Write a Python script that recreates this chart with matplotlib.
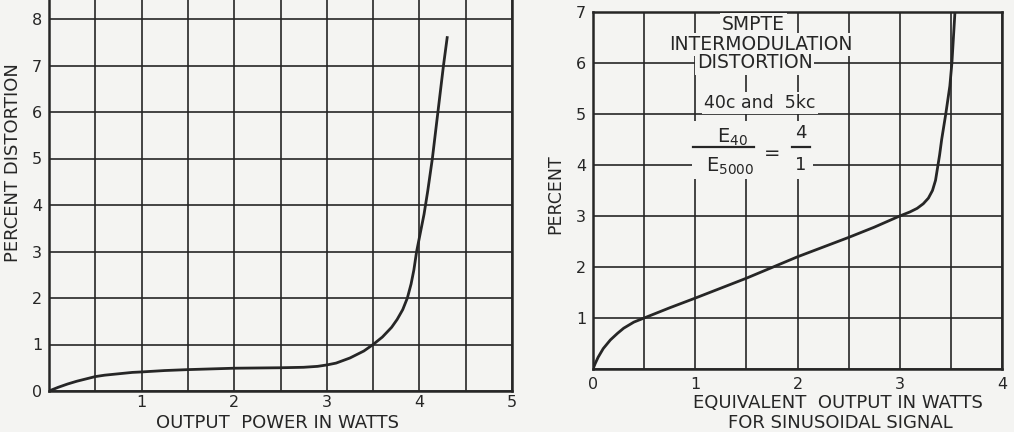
import matplotlib
matplotlib.use('Agg')
import matplotlib.pyplot as plt
from matplotlib.patches import Rectangle

# left chart: percent distortion vs output power
power_w = [0, 0.1, 0.2, 0.3, 0.4, 0.5, 0.6, 0.75, 0.9, 1.0, 1.25, 1.5, 2.0, 2.5, 2.75,
           2.9, 3.0, 3.1, 3.25, 3.4, 3.5, 3.6, 3.7, 3.76, 3.82, 3.87, 3.91, 3.94, 3.97,
           4.01, 4.05, 4.09, 4.14, 4.2, 4.26, 4.3]
distortion = [0, 0.08, 0.15, 0.21, 0.26, 0.31, 0.34, 0.37, 0.4, 0.41, 0.44, 0.46, 0.49, 0.5, 0.51,
              0.53, 0.56, 0.6, 0.71, 0.86, 1.0, 1.16, 1.37, 1.54, 1.75, 2.0, 2.3, 2.6, 3.0,
              3.4, 3.8, 4.3, 5.0, 6.0, 7.0, 7.6]

# right chart: SMPTE intermodulation distortion
equiv_w = [0, 0.02, 0.05, 0.1, 0.17, 0.24, 0.3, 0.4, 0.5, 0.6, 0.75, 1.0, 1.5, 2.0, 2.5,
           2.75, 3.0, 3.1, 3.17, 3.23, 3.28, 3.32, 3.35, 3.37, 3.39, 3.41, 3.45, 3.49, 3.51, 3.54]
im_percent = [0, 0.1, 0.23, 0.4, 0.57, 0.7, 0.8, 0.92, 1.0, 1.08, 1.2, 1.39, 1.78, 2.2, 2.58,
              2.78, 3.0, 3.08, 3.15, 3.24, 3.35, 3.5, 3.7, 3.95, 4.2, 4.5, 5.0, 5.55, 6.0, 7.0]

left_xticks = [1, 2, 3, 4, 5]
left_yticks = [0, 1, 2, 3, 4, 5, 6, 7, 8]
right_xticks = [0, 1, 2, 3, 4]
right_yticks = [1, 2, 3, 4, 5, 6, 7]

ink = '#262626'
paper = '#f4f4f2'

plt.rcParams['font.family'] = ['DejaVu Sans']
plt.rcParams['mathtext.default'] = 'regular'

fig = plt.figure(figsize=(10.14, 4.32), dpi=100, facecolor=paper)


def style(ax, xmax, ymax, xticks, yticks, xpad, ypad):
    ax.set_facecolor(paper)
    ax.set_xlim(0, xmax)
    ax.set_ylim(0, ymax)
    ax.set_xticks(xticks)
    ax.set_yticks(yticks)
    ax.set_xticks([i * 0.5 for i in range(int(xmax * 2) + 1)], minor=True)
    ax.set_yticks(range(int(ymax) + 1), minor=True)
    ax.grid(which='both', color=ink, linewidth=1.2)
    ax.tick_params(which='both', length=0, colors=ink, labelsize=11.5)
    ax.tick_params(axis='x', pad=xpad)
    ax.tick_params(axis='y', pad=ypad)
    for s in ax.spines.values():
        s.set_color(ink)
        s.set_linewidth(1.8)


# ---- left panel ----
ax1 = fig.add_axes([49 / 1014, 41 / 432, 463 / 1014, 8.5 * 46.5 / 432])
style(ax1, 5, 8.5, left_xticks, left_yticks, 3, 5)
ax1.plot(power_w, distortion, color=ink, linewidth=2.0, zorder=3)
fig.text(277 / 1014, 1 - 423 / 432, 'OUTPUT  POWER IN WATTS', ha='center', va='center',
         fontsize=13, color=ink)
fig.text(13 / 1014, 1 - 163 / 432, 'PERCENT DISTORTION', ha='center', va='center',
         rotation=90, fontsize=13, color=ink)

# ---- right panel ----
ax2 = fig.add_axes([593 / 1014, 63 / 432, 409 / 1014, 357 / 432])
style(ax2, 4, 7, right_xticks, right_yticks, 6, 5)
ax2.plot(equiv_w, im_percent, color=ink, linewidth=2.0, zorder=3)
fig.text(555 / 1014, 1 - 194 / 432, 'PERCENT', ha='center', va='center',
         rotation=90, fontsize=12.5, color=ink)
fig.text(838 / 1014, 1 - 403 / 432, 'EQUIVALENT  OUTPUT IN WATTS', ha='center', va='center',
         fontsize=13, color=ink)
fig.text(840 / 1014, 1 - 423 / 432, 'FOR SINUSOIDAL SIGNAL', ha='center', va='center',
         fontsize=13, color=ink)

box = dict(facecolor=paper, edgecolor='none', pad=1.5)
ax2.text(1.57, 6.75, 'SMPTE', ha='center', va='center', fontsize=13.5, color=ink, bbox=box, zorder=4)
ax2.text(1.64, 6.36, 'INTERMODULATION', ha='center', va='center', fontsize=13.5, color=ink, bbox=box, zorder=4)
ax2.text(1.58, 6.0, 'DISTORTION', ha='center', va='center', fontsize=13.5, color=ink, bbox=box, zorder=4)
ax2.text(1.63, 5.21, '40c and  5kc', ha='center', va='center', fontsize=12.5, color=ink, bbox=box, zorder=4)

# blank area behind the frequency ratio
ax2.add_patch(Rectangle((0.97, 3.72), 1.18, 1.15, facecolor=paper, edgecolor='none', zorder=3.5))
ax2.text(1.36, 4.55, '$E_{40}$', ha='center', va='center', fontsize=14, color=ink, zorder=4)
ax2.plot([0.98, 1.57], [4.36, 4.36], color=ink, linewidth=1.6, zorder=4)
ax2.text(1.34, 3.98, '$E_{5000}$', ha='center', va='center', fontsize=14, color=ink, zorder=4)
ax2.text(1.75, 4.23, '=', ha='center', va='center', fontsize=14, color=ink, zorder=4)
ax2.text(2.03, 4.63, '4', ha='center', va='center', fontsize=13, color=ink, zorder=4)
ax2.plot([1.95, 2.12], [4.36, 4.36], color=ink, linewidth=1.6, zorder=4)
ax2.text(2.03, 4.0, '1', ha='center', va='center', fontsize=13, color=ink, zorder=4)

fig.savefig('out.png', dpi=100, facecolor=paper)
